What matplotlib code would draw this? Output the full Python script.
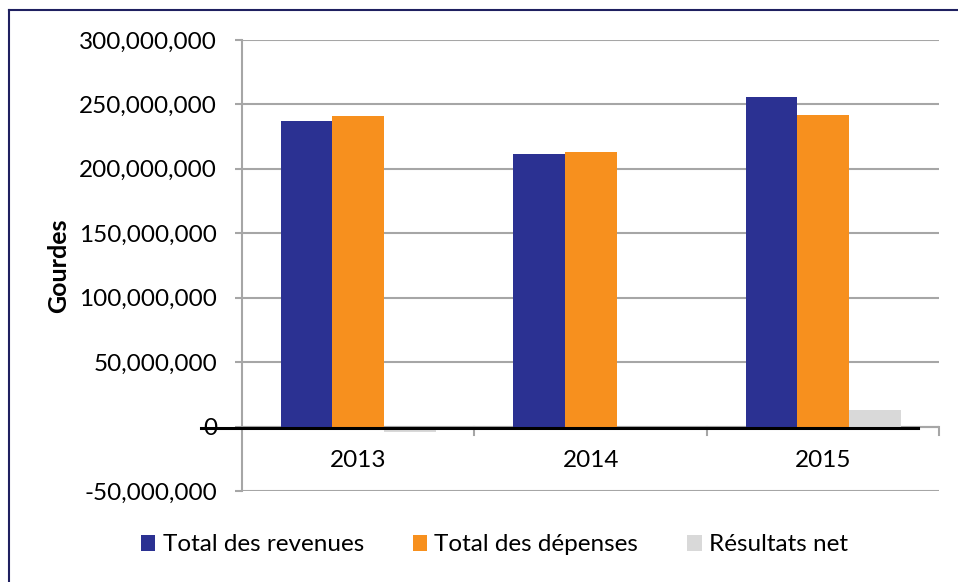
import numpy as np
import matplotlib
matplotlib.use("Agg")
import matplotlib.pyplot as plt
from matplotlib.ticker import FuncFormatter
from matplotlib.lines import Line2D

plt.rcParams['font.family'] = ['Lato', 'DejaVu Sans']

# données (gourdes)
years = ['2013', '2014', '2015']
revenues = [237.2e6, 211.3e6, 255.8e6]
depenses = [241.3e6, 213.2e6, 241.9e6]
net = [-4.5e6, -1.9e6, 13.0e6]
series_names = ['Total des revenues', 'Total des dépenses', 'Résultats net']
colors = ['#2B3192', '#F7901E', '#D9D9D9']
y_ticks = [-50e6, 0, 50e6, 100e6, 150e6, 200e6, 250e6, 300e6]

fig = plt.figure(figsize=(9.58, 5.82), dpi=100)
ax = fig.add_axes([0.2526, 0.1564, 0.7280, 0.7749])

x = np.arange(len(years))
w = 0.222
for i, vals in enumerate([revenues, depenses, net]):
	ax.bar(x + (i - 1) * w, vals, w, color=colors[i], label=series_names[i], zorder=3)

ax.set_xlim(-0.5, 2.5)
ax.set_ylim(-50e6, 300e6)
ax.set_yticks(y_ticks)
ax.yaxis.set_major_formatter(FuncFormatter(lambda v, p: f"{int(v):,}"))
ax.grid(axis='y', color='#a6a6a6', lw=1.5, zorder=0)
for s in ['top', 'right', 'bottom']:
	ax.spines[s].set_visible(False)
ax.spines['left'].set_color('#a6a6a6')
ax.spines['left'].set_linewidth(1.5)
ax.tick_params(axis='y', length=5, width=1.5, color='#a6a6a6', labelsize=17.5, pad=13)

# axe horizontal à zéro avec graduations entre catégories
ax.axhline(0, color='#a6a6a6', lw=1.5, zorder=2)
ax.set_xticks([])
for b in [0.5, 1.5, 2.5]:
	ax.plot([b, b], [0, -6.5e6], color='#a6a6a6', lw=1.5, clip_on=False, zorder=2)
for i, yr in enumerate(years):
	ax.text(i, -26.5e6, yr, ha='center', va='center', fontsize=17.5)

# trait noir sur la ligne zéro
ax.plot([-0.676, 2.406], [-1.5e6, -1.5e6], color='black', lw=2.2, clip_on=False, zorder=4)

ax.set_ylabel('Gourdes', fontsize=18, fontweight='bold')
ax.yaxis.set_label_coords(-0.2466, 0.5)

ax.legend(loc='center', bbox_to_anchor=(0.516, 0.0636), bbox_transform=fig.transFigure,
	ncol=3, frameon=False, fontsize=17.5, handlelength=0.6, handleheight=0.6,
	handletextpad=0.3, columnspacing=2.0)

# cadre extérieur
fig.add_artist(Line2D([0.0089, 0.0089], [0, 0.983], color='#1f2060', lw=1.5))
fig.add_artist(Line2D([0.0089, 1], [0.983, 0.983], color='#1f2060', lw=1.5))

fig.savefig('out.png', dpi=100)
